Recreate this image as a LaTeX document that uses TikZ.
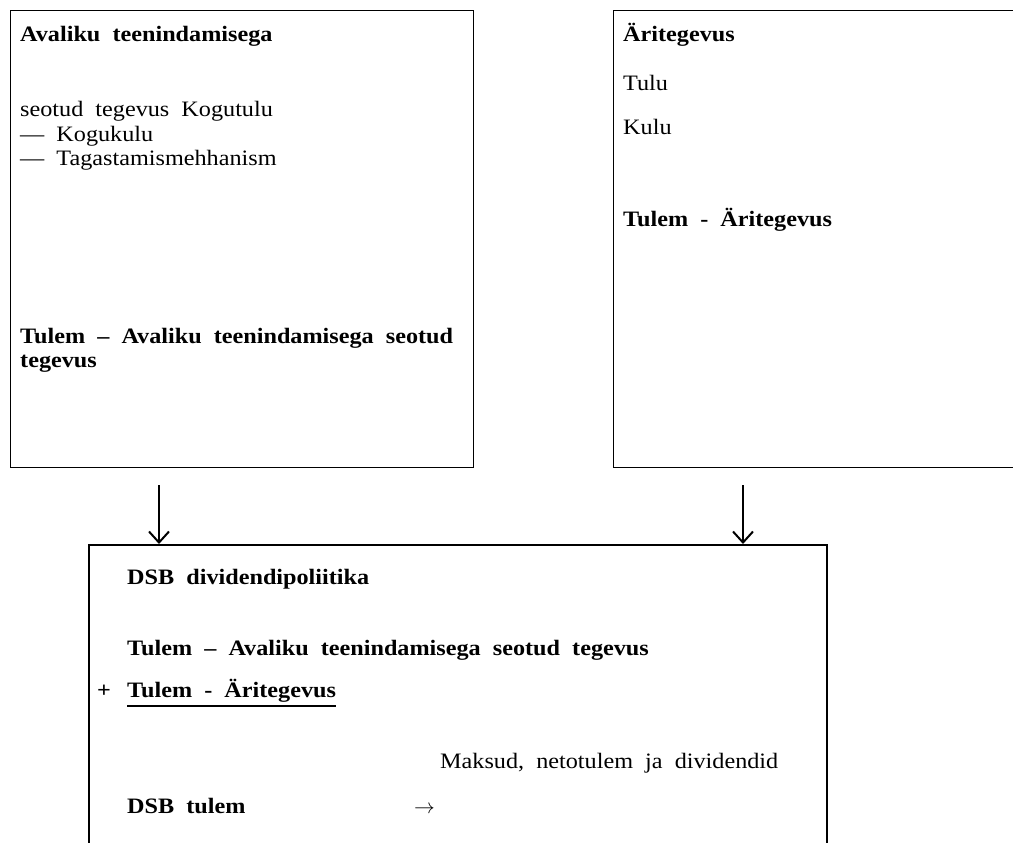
\documentclass[tikz,border=0pt]{standalone}
\usepackage{fontspec}
\setmainfont{Liberation Serif}[FakeStretch=1.1,WordSpace=2]
\usetikzlibrary{arrows.meta}

\begin{document}
\begin{tikzpicture}[x=1pt,y=-1pt,
    box/.style={draw,line width=1.4pt,inner sep=0pt,anchor=north west},
    txt/.style={anchor=base west,inner sep=0pt,font=\fontsize{22}{24}\selectfont},
    hd/.style={anchor=base west,inner sep=0pt,font=\fontsize{22}{24}\selectfont\bfseries},
    flow/.style={-{Straight Barb[length=11pt,width=20pt,line width=2pt]},line width=2pt}]
  \useasboundingbox (0,0) rectangle (1013,843);
  % the three boxes
  \node[box,minimum width=463pt,minimum height=457pt] (pub) at (10,10) {};
  \node[box,minimum width=430pt,minimum height=457pt] (biz) at (613,10) {};
  \node[box,line width=2pt,minimum width=738pt,minimum height=340pt] (dsb) at (88,544) {};
  % left box
  \node[hd] (pubtitle) at (20,42) {Avaliku teenindamisega};
  \node[txt] (pubin) at (20,117) {seotud tegevus Kogutulu};
  \node[txt] (pubcost) at (20,141) {— Kogukulu};
  \node[txt] (pubback) at (20,165) {— Tagastamismehhanism};
  \node[hd] (pubres) at (20,343) {Tulem – Avaliku teenindamisega seotud};
  \node[hd] (pubres2) at (20,367) {tegevus};
  % right box
  \node[hd] (biztitle) at (623,42) {Äritegevus};
  \node[txt] (bizin) at (623,91) {Tulu};
  \node[txt] (bizcost) at (623,135) {Kulu};
  \node[hd] (bizres) at (623,226) {Tulem - Äritegevus};
  % bottom box
  \node[hd] (dsbtitle) at (127,584) {DSB dividendipoliitika};
  \node[hd] (sumpub) at (127,655) {Tulem – Avaliku teenindamisega seotud tegevus};
  \node[hd] (plus) at (97,697) {+};
  \node[hd] (sumbiz) at (127,697) {Tulem - Äritegevus};
  \draw[line width=1.6pt] ([yshift=-9pt]sumbiz.base west) -- ([yshift=-9pt]sumbiz.base east);
  \node[txt] (taxes) at (440,768) {Maksud, netotulem ja dividendid};
  \node[hd] (dsbres) at (127,813) {DSB tulem};
  \node[txt] (toarrow) at (414,813) {$\rightarrow$};
  % arrows into the bottom box
  \coordinate (fromleft) at (159,485);
  \coordinate (fromright) at (743,485);
  \draw[flow] (fromleft) -- (fromleft |- dsb.north);
  \draw[flow] (fromright) -- (fromright |- dsb.north);
\end{tikzpicture}
\end{document}
